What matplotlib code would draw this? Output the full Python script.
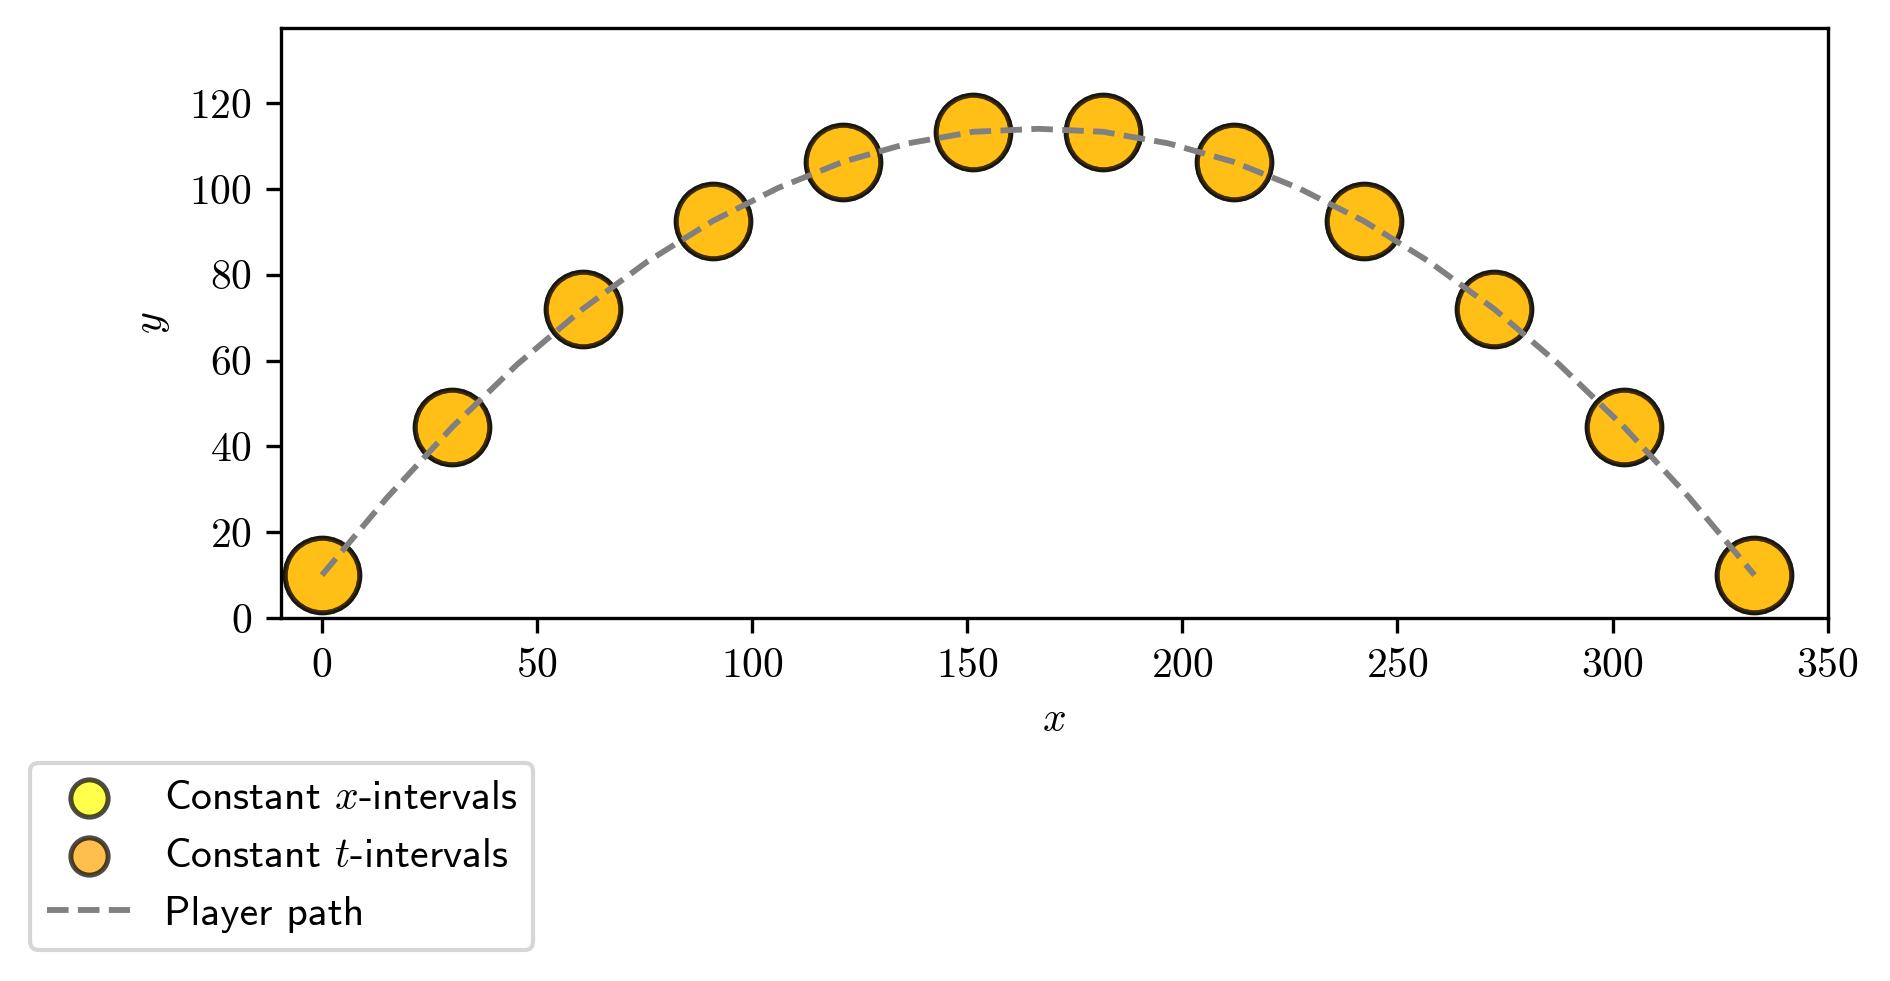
import numpy as np
import matplotlib

matplotlib.use("Agg")
import matplotlib.pyplot as plt
from matplotlib.ticker import FuncFormatter

plt.rcParams["mathtext.fontset"] = "cm"
plt.rcParams["font.family"] = "cmr10"
plt.rcParams["axes.formatter.use_mathtext"] = True
plt.rcParams["font.size"] = 10

# punktlar (sabit x ve sabit t araliklari ayni yerlere dusuyor)
x_pts = [0, 30.3, 60.6, 90.8, 121.1, 151.4, 181.6, 211.9, 242.2, 272.5, 302.7, 333.0]
y_x = [10, 44.5, 72.0, 92.5, 106.3, 113.3, 113.3, 106.3, 92.5, 72.0, 44.5, 10]
y_t = [10, 44.5, 72.0, 92.5, 106.3, 113.3, 113.3, 106.3, 92.5, 72.0, 44.5, 10]

# oyuncu yolu (kesikli egri), resimden okunan noktalar
path_x = [0, 15.1, 30.3, 45.4, 60.6, 75.7, 90.8, 106.0, 121.1, 136.2, 151.4, 166.5,
          181.6, 196.8, 211.9, 227.0, 242.2, 257.3, 272.5, 287.6, 302.7, 317.9, 333.0]
path_y = [10, 28.0, 44.5, 59.1, 72.0, 83.1, 92.5, 100.2, 106.3, 110.6, 113.3, 114.0,
          113.3, 110.6, 106.3, 100.2, 92.5, 83.1, 72.0, 59.1, 44.5, 28.0, 10]

fig = plt.figure(figsize=(6.3, 3.27), dpi=300)
ax = fig.add_axes([0.1487, 0.370, 0.967 - 0.1487, 0.9715 - 0.370])

ax.scatter(x_pts, y_x, s=320, c="yellow", edgecolors="black", linewidths=1.2,
           alpha=0.7, zorder=2, label=r"Constant $x$-intervals")
ax.scatter(x_pts, y_t, s=320, c="orange", edgecolors="black", linewidths=1.2,
           alpha=0.7, zorder=3, label=r"Constant $t$-intervals")
ax.plot(path_x, path_y, "--", color="gray", lw=1.4, zorder=4, label="Player path")

ax.set_xlim(-9.5, 350)
ax.set_ylim(0, 137.5)
ax.set_xticks(np.arange(0, 351, 50))
ax.set_yticks(np.arange(0, 121, 20))
fmt = FuncFormatter(lambda v, p: f"${v:.0f}$")
ax.xaxis.set_major_formatter(fmt)
ax.yaxis.set_major_formatter(fmt)
ax.set_xlabel("$x$")
ax.set_ylabel("$y$")

fig.legend(loc="lower left", bbox_to_anchor=(0.016, 0.032), borderaxespad=0,
           markerscale=0.5, prop={"family": "cmss10", "size": 10})

fig.savefig("out.png", dpi=300)
